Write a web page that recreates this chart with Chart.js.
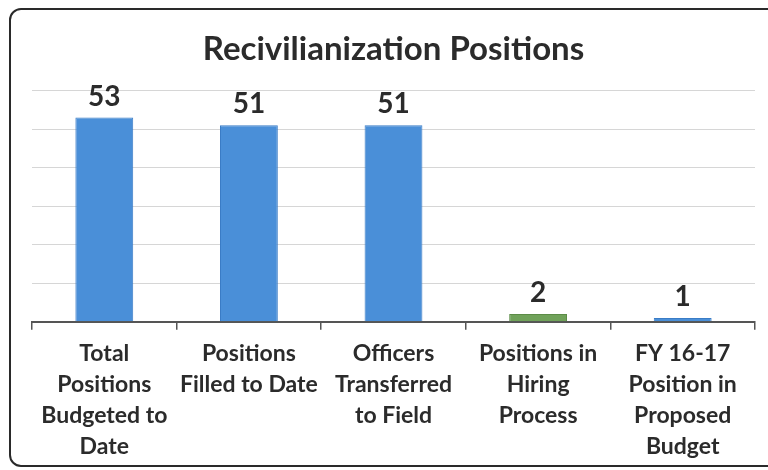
<!DOCTYPE html>
<html>
<head>
<meta charset="utf-8">
<script src="https://cdn.jsdelivr.net/npm/chart.js@4/dist/chart.umd.min.js"></script>
<style>
  html, body { margin: 0; padding: 0; background: #fff; overflow: hidden; }
  #wrap { position: relative; width: 768px; height: 470px; }
  #frame {
    position: absolute; left: 9px; top: 8px; width: 790px; height: 459px;
    border: 2px solid #2a2a2a; border-radius: 12px; box-sizing: border-box;
  }
  canvas { position: absolute; left: 0; top: 0; }
</style>
</head>
<body>
<div id="wrap">
  <div id="frame"></div>
  <canvas id="chart" width="768" height="470"></canvas>
</div>
<script>
// chart data
const categories = [
  ["Total", "Positions", "Budgeted to", "Date"],
  ["Positions", "Filled to Date"],
  ["Officers", "Transferred", "to Field"],
  ["Positions in", "Hiring", "Process"],
  ["FY 16-17", "Position in", "Proposed", "Budget"]
];
const positions = [53, 51, 51, 2, 1];
const barColors = ["#4a8fd8", "#4a8fd8", "#4a8fd8", "#70a25a", "#4a8fd8"];
const barBorders = ["#3a7cc6", "#3a7cc6", "#3a7cc6", "#5c8c47", "#3a7cc6"];
const yTicks = [0, 10, 20, 30, 40, 50, 60];

const FONT = "Lato, 'Open Sans', sans-serif";

// draws the numbers above each bar
const valueLabels = {
  id: "valueLabels",
  afterDatasetsDraw(chart) {
    const ctx = chart.ctx;
    const meta = chart.getDatasetMeta(0);
    ctx.save();
    ctx.font = "bold 28px " + FONT;
    ctx.fillStyle = "#2b2b2b";
    ctx.textAlign = "center";
    ctx.textBaseline = "bottom";
    meta.data.forEach(function (bar, i) {
      ctx.fillText(String(positions[i]), bar.x, bar.y - 7);
    });
    ctx.restore();
  }
};

new Chart(document.getElementById("chart").getContext("2d"), {
  type: "bar",
  data: {
    labels: categories,
    datasets: [{
      data: positions,
      backgroundColor: barColors,
      borderColor: barBorders,
      borderWidth: 1,
      categoryPercentage: 0.4,
      barPercentage: 1.0
    }]
  },
  options: {
    responsive: false,
    animation: false,
    devicePixelRatio: 1,
    layout: { padding: { left: 32, right: 13, top: 0, bottom: 0 } },
    plugins: {
      legend: { display: false },
      tooltip: { enabled: false },
      title: {
        display: true,
        text: "Recivilianization Positions",
        color: "#2b2b2b",
        font: { family: FONT, size: 33, weight: "bold" },
        padding: { top: 30, bottom: 21 }
      }
    },
    scales: {
      x: {
        grid: {
          offset: true,
          drawOnChartArea: false,
          drawTicks: true,
          tickLength: 8,
          color: "#555",
          lineWidth: 1.5
        },
        border: { display: true, color: "#555", width: 2 },
        ticks: {
          color: "#2b2b2b",
          font: { family: FONT, size: 23, weight: "bold", lineHeight: 1.35 },
          padding: 8,
          maxRotation: 0,
          autoSkip: false
        }
      },
      y: {
        min: yTicks[0],
        max: yTicks[yTicks.length - 1],
        afterBuildTicks: function (axis) {
          axis.ticks = yTicks.map(function (v) { return { value: v }; });
        },
        grid: { color: "#d6d6d6", lineWidth: 1, drawTicks: false },
        border: { display: false },
        ticks: { display: false }
      }
    }
  },
  plugins: [valueLabels]
});
</script>
</body>
</html>
